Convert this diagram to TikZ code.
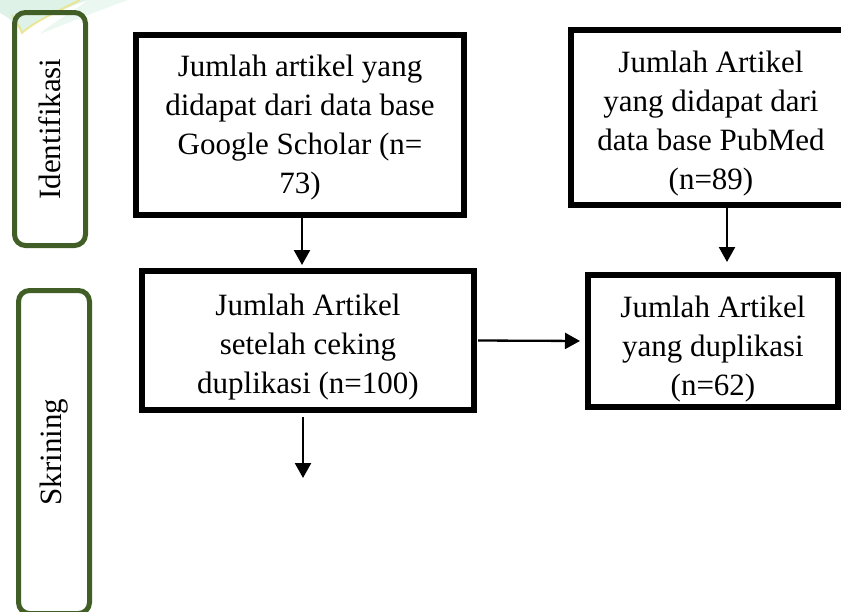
\documentclass[tikz,border=0pt]{standalone}
\usepackage{fontspec}
\setmainfont{Liberation Serif}
\usepackage{xcolor}
\usetikzlibrary{positioning, calc, arrows.meta}
\definecolor{stagegreen}{rgb}{0.25, 0.37, 0.15}
\definecolor{markmint}{rgb}{0.74, 0.90, 0.82}
\definecolor{markyellow}{rgb}{0.93, 0.88, 0.45}

\begin{document}
\begin{tikzpicture}[x=1pt, y=-1pt,
  box/.style={draw=black, line width=6pt, inner sep=0pt},
  txt/.style={align=center, inner sep=0pt, font=\fontsize{31}{39}\selectfont},
  stage/.style={draw=stagegreen, line width=5pt, rounded corners=11pt, rotate=90, minimum height=71pt, inner sep=0pt, font=\fontsize{31}{39}\selectfont},
  arr/.style={-{Triangle[width=16pt,length=15pt]}, line width=2.3pt}]
\useasboundingbox (0,0) rectangle (841,611);

% watermark remains
\fill[markmint, opacity=0.5] (0,0) -- (0,13) .. controls (10,18) and (18,26) .. (22,33) .. controls (34,22) and (60,10) .. (88,0) -- cycle;
\fill[markmint, opacity=0.3] (88,0) .. controls (70,14) and (50,24) .. (40,34) .. controls (70,22) and (100,10) .. (128,0) -- cycle;
\draw[markyellow, line width=2pt, opacity=0.7] (12,15) .. controls (16,21) and (20,27) .. (22,33) .. controls (34,22) and (56,12) .. (80,0);

% stages
\node[stage, minimum width=233pt] (idf) at (50,129) {Identifikasi};
\node[stage, minimum width=323pt] (skr) at (54,452) {Skrining};

% boxes
\node[box, minimum width=328pt, minimum height=180pt] (gs) at (300,125) {};
\node[box, minimum width=280pt, minimum height=175pt] (pm) at (711,117.5) {};
\node[box, minimum width=332pt, minimum height=139pt] (cek) at (308,340.5) {};
\node[box, minimum width=250pt, minimum height=132pt] (dup) at (713,341) {};

\node[txt] (gstxt) at ([yshift=-3pt]gs.center) {Jumlah artikel yang\\didapat dari data base\\Google Scholar (n=\\73)};
\node[txt] (pmtxt) at ([yshift=-6pt]pm.center) {Jumlah Artikel\\yang didapat dari\\data base PubMed\\(n=89)};
\node[txt] (cektxt) at ([yshift=-7pt]cek.center) {Jumlah Artikel\\setelah ceking\\duplikasi (n=100)};
\node[txt] (duptxt) at ([yshift=-8pt]dup.center) {Jumlah Artikel\\yang duplikasi\\(n=62)};
\coordinate (nxt) at (303,478);

% arrows
\draw[arr, shorten >=3pt] ([xshift=2pt]gs.south) -- ([xshift=2pt]gs.south |- cek.north);
\draw[arr, shorten >=10pt] ([xshift=16pt]pm.south) -- ([xshift=16pt]pm.south |- dup.north);
\draw[arr, shorten <=1pt, shorten >=5pt] (cek.east) -- (dup.west);
\draw[arr, shorten <=4pt] (cek.south -| nxt) -- (nxt);

\end{tikzpicture}
\end{document}
